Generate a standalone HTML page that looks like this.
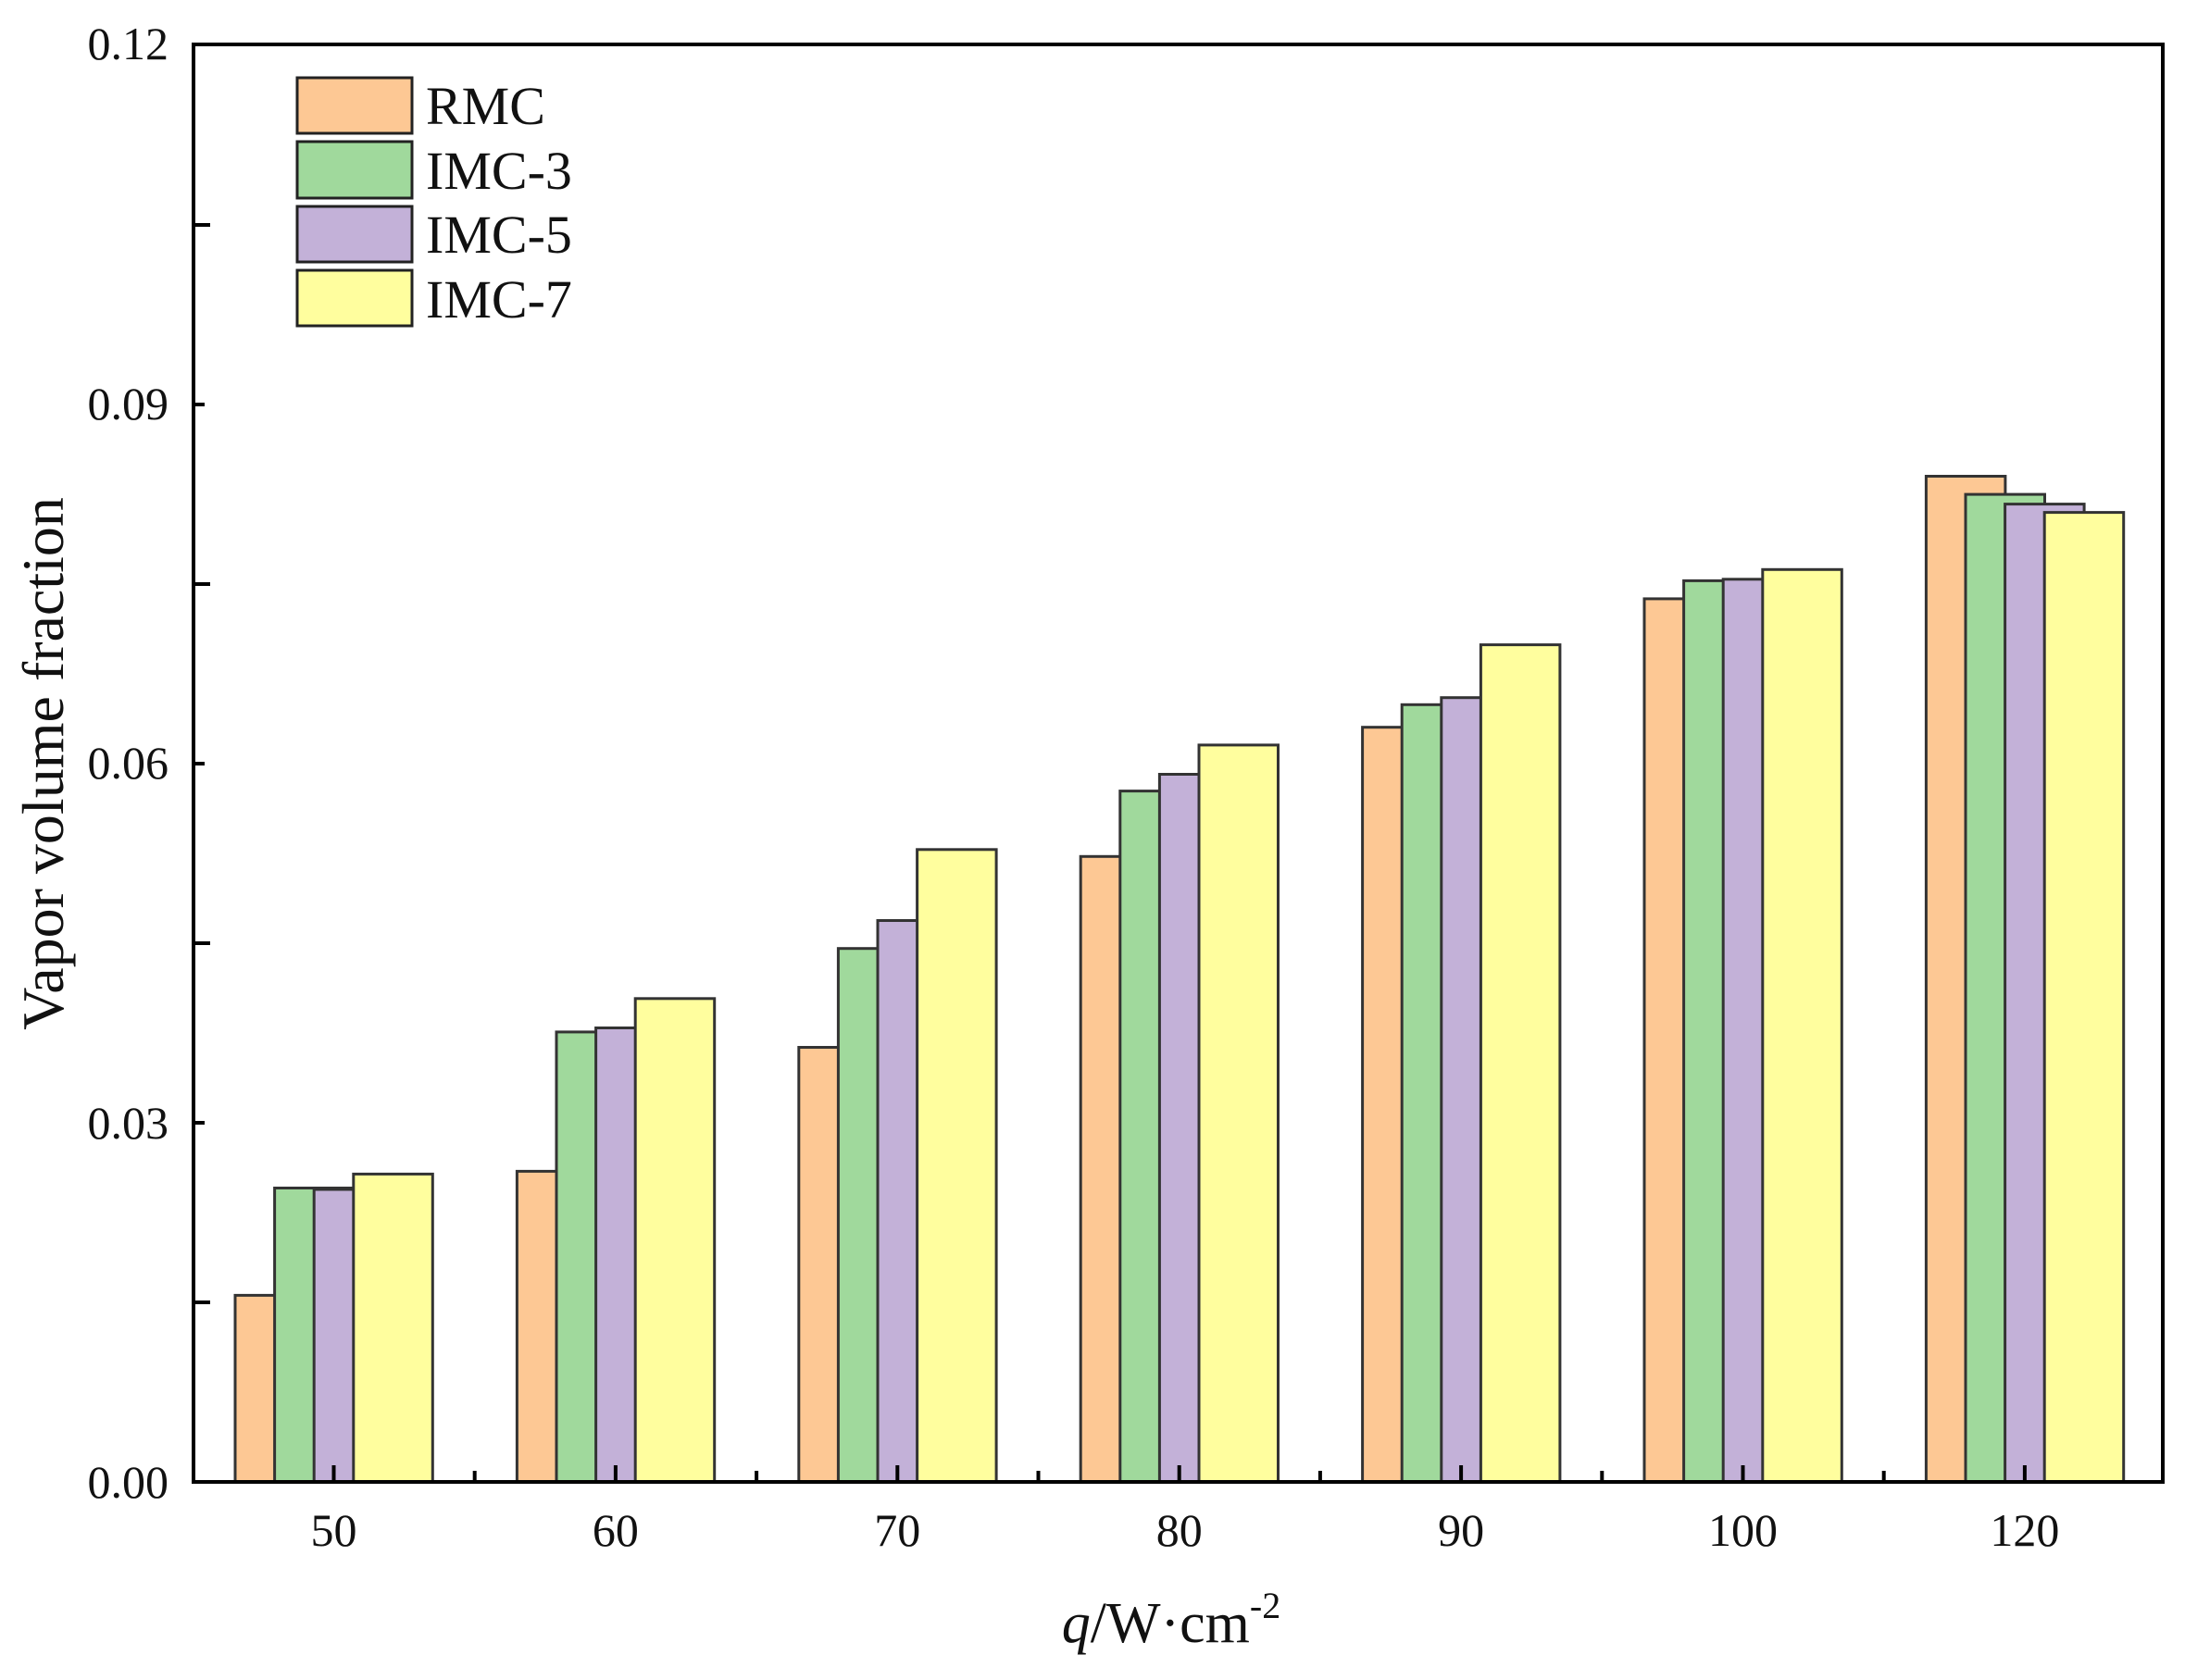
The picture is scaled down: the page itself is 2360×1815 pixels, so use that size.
<!DOCTYPE html>
<html><head><meta charset="utf-8"><style>html,body{margin:0;padding:0;background:#fff}</style></head>
<body>
<svg width="2360" height="1810" viewBox="0 0 2360 1810" xmlns="http://www.w3.org/2000/svg" font-family="Liberation Serif, serif">
<rect width="2360" height="1810" fill="#fff"/>
<g stroke="#333" stroke-width="3">
<rect x="254" y="1399.4" width="85.5" height="201.6" fill="#fdc894"/>
<rect x="296.6" y="1283.5" width="85.5" height="317.5" fill="#a0d99c"/>
<rect x="339.2" y="1285" width="85.5" height="316" fill="#c3b1d8"/>
<rect x="381.8" y="1268.4" width="85.5" height="332.6" fill="#fffe9e"/>

<rect x="558.4" y="1265.4" width="85.5" height="335.6" fill="#fdc894"/>
<rect x="601" y="1114.9" width="85.5" height="486.1" fill="#a0d99c"/>
<rect x="643.6" y="1110.5" width="85.5" height="490.5" fill="#c3b1d8"/>
<rect x="686.2" y="1078.8" width="85.5" height="522.2" fill="#fffe9e"/>

<rect x="862.8" y="1131.5" width="85.5" height="469.5" fill="#fdc894"/>
<rect x="905.4" y="1024.7" width="85.5" height="576.3" fill="#a0d99c"/>
<rect x="948" y="994.5" width="85.5" height="606.5" fill="#c3b1d8"/>
<rect x="990.6" y="917.8" width="85.5" height="683.2" fill="#fffe9e"/>

<rect x="1167.2" y="925.3" width="85.5" height="675.7" fill="#fdc894"/>
<rect x="1209.8" y="854.6" width="85.5" height="746.4" fill="#a0d99c"/>
<rect x="1252.4" y="836.5" width="85.5" height="764.5" fill="#c3b1d8"/>
<rect x="1295" y="804.9" width="85.5" height="796.1" fill="#fffe9e"/>

<rect x="1471.6" y="785.7" width="85.5" height="815.3" fill="#fdc894"/>
<rect x="1514.2" y="761.3" width="85.5" height="839.7" fill="#a0d99c"/>
<rect x="1556.8" y="753.7" width="85.5" height="847.3" fill="#c3b1d8"/>
<rect x="1599.4" y="696.6" width="85.5" height="904.4" fill="#fffe9e"/>

<rect x="1776" y="646.9" width="85.5" height="954.1" fill="#fdc894"/>
<rect x="1818.6" y="627.4" width="85.5" height="973.6" fill="#a0d99c"/>
<rect x="1861.2" y="625.8" width="85.5" height="975.2" fill="#c3b1d8"/>
<rect x="1903.8" y="615.3" width="85.5" height="985.7" fill="#fffe9e"/>

<rect x="2080.4" y="514.5" width="85.5" height="1086.5" fill="#fdc894"/>
<rect x="2123" y="534.1" width="85.5" height="1066.9" fill="#a0d99c"/>
<rect x="2165.6" y="544.6" width="85.5" height="1056.4" fill="#c3b1d8"/>
<rect x="2208.2" y="553.6" width="85.5" height="1047.4" fill="#fffe9e"/>
</g>
<g stroke="#000" stroke-width="4" fill="none">
<rect x="209" y="48" width="2127" height="1553"/>
<path d="M209 1407h18M209 1213h12M209 1019h18M209 825h12M209 631h18M209 437h12M209 243h18"/>
<path d="M360.5 1601v-18M664.9 1601v-18M969.3 1601v-18M1273.7 1601v-18M1578.1 1601v-18M1882.5 1601v-18M2186.9 1601v-18"/>
<path d="M512.7 1601v-12M817.1 1601v-12M1121.5 1601v-12M1425.9 1601v-12M1730.3 1601v-12M2034.7 1601v-12"/>
</g>
<g font-size="50" fill="#111" text-anchor="end">
<text x="182" y="64">0.12</text><text x="182" y="453">0.09</text><text x="182" y="841">0.06</text><text x="182" y="1230">0.03</text><text x="182" y="1618">0.00</text>
</g>
<g font-size="50" fill="#111" text-anchor="middle">
<text x="360.5" y="1670">50</text><text x="664.9" y="1670">60</text><text x="969.3" y="1670">70</text><text x="1273.7" y="1670">80</text><text x="1578.1" y="1670">90</text><text x="1882.5" y="1670">100</text><text x="2186.9" y="1670">120</text>
</g>
<text x="1265" y="1774" font-size="62" text-anchor="middle" fill="#111"><tspan font-style="italic">q</tspan>/W·cm<tspan font-size="40" dy="-26">-2</tspan></text>
<text transform="translate(68 825) rotate(-90)" font-size="64" text-anchor="middle" fill="#111">Vapor volume fraction</text>
<g stroke="#222" stroke-width="3">
<rect x="321" y="84" width="124" height="60" fill="#fdc894"/>
<rect x="321" y="153" width="124" height="61" fill="#a0d99c"/>
<rect x="321" y="223" width="124" height="60" fill="#c3b1d8"/>
<rect x="321" y="292" width="124" height="60" fill="#fffe9e"/>
</g>
<g font-size="58" fill="#111">
<text x="460" y="134">RMC</text><text x="460" y="204">IMC-3</text><text x="460" y="273">IMC-5</text><text x="460" y="343">IMC-7</text>
</g>
</svg>
</body></html>
